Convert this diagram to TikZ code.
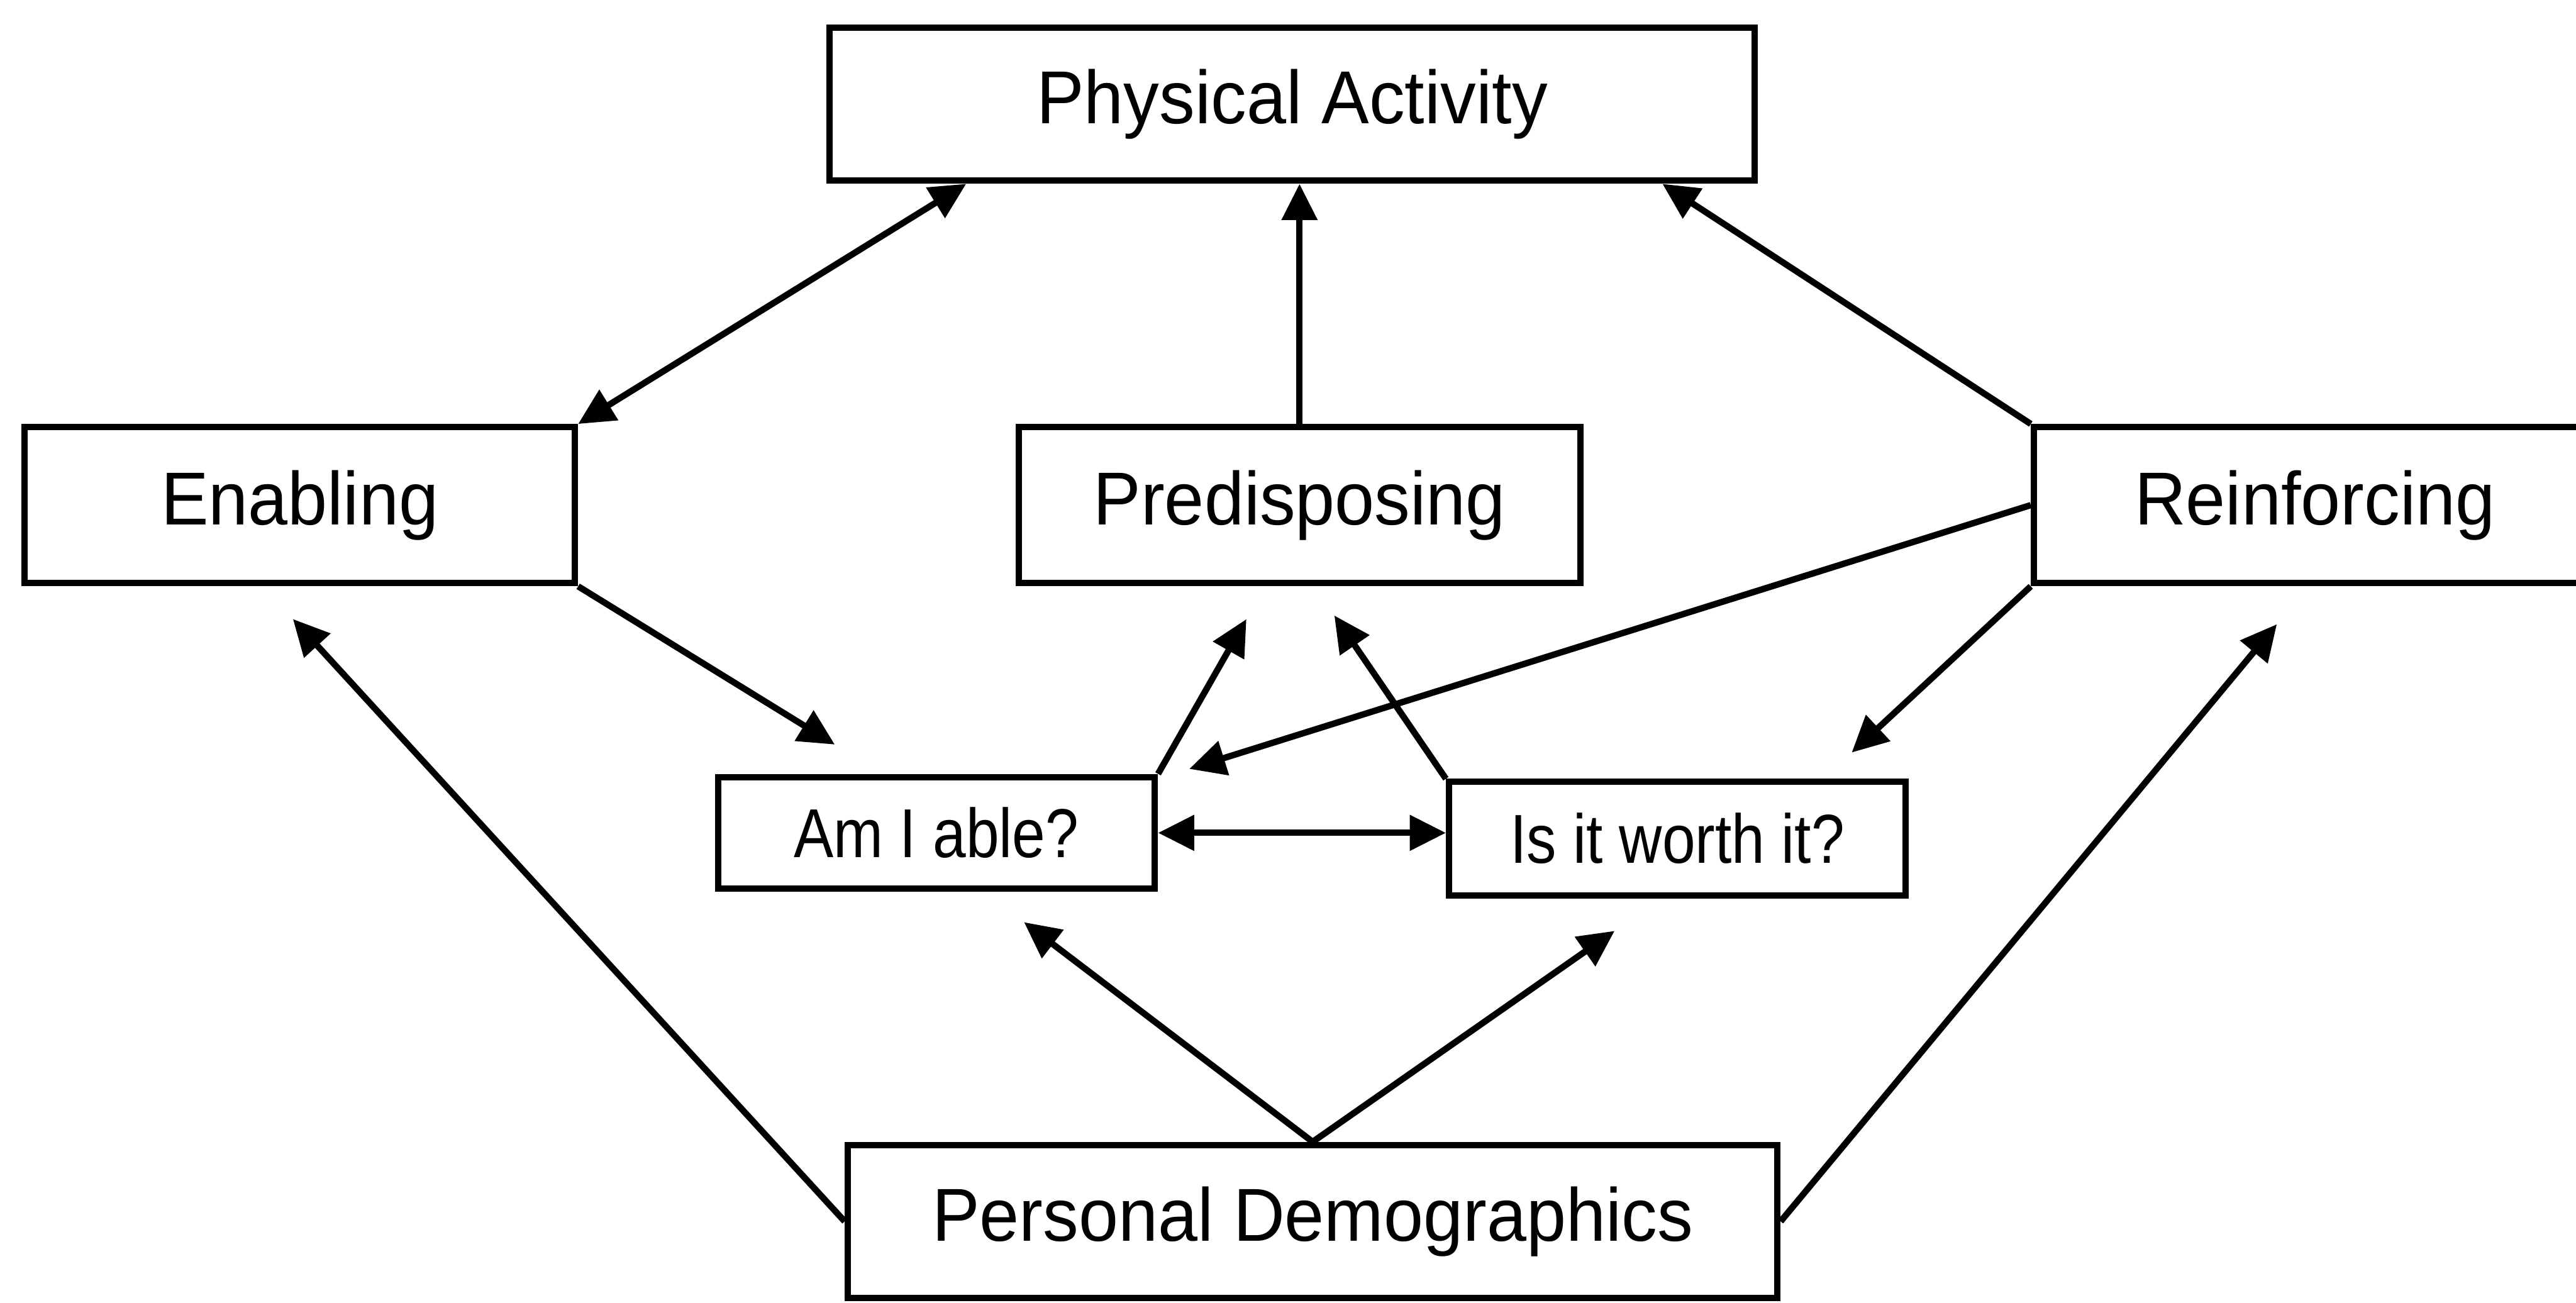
\documentclass[tikz,border=0pt]{standalone}
\usepackage{fontspec}
\setmainfont{Liberation Sans}
\newfontfamily\bigfont[FakeStretch=0.95]{Liberation Sans}
\newfontfamily\smallfont[FakeStretch=0.86]{Liberation Sans}
\usetikzlibrary{arrows.meta}

\tikzset{
  box/.style={draw,line width=2.2pt,inner sep=0pt,font=\bigfont\fontsize{26pt}{30pt}\selectfont},
  qbox/.style={box,font=\smallfont\fontsize{24pt}{28pt}\selectfont},
  link/.style={line width=2.2pt},
  >={Triangle[length=0.44cm,width=0.42cm]}
}

\begin{document}
\begin{tikzpicture}[x=0.02cm,y=-0.02cm]
    \useasboundingbox (0,0) rectangle (1568,793);

    % Nodes
    \node (pa) at (786.5,63.5) [box,minimum width=11.26cm,minimum height=1.86cm] {Physical Activity};
    \node (en) at (182.5,307.5) [box,minimum width=6.7cm,minimum height=1.9cm] {Enabling};
    \node (pre) at (791,307.5) [box,minimum width=6.84cm,minimum height=1.9cm] {Predisposing};
    \node (re) at (1409,307.5) [box,minimum width=6.84cm,minimum height=1.9cm] {Reinforcing};
    \node (able) at (570,507) [qbox,minimum width=5.32cm,minimum height=1.36cm] {Am I able?};
    \node (worth) at (1021,510.5) [qbox,minimum width=5.56cm,minimum height=1.38cm] {Is it worth it?};
    \node (pd) at (799,743.5) [box,minimum width=11.32cm,minimum height=1.86cm] {Personal Demographics};

    % Edges up to Physical Activity
    \path[<->,link] (en.north east) edge ([xshift=1.7cm]pa.south west);
    \path[->,link] (pre.north) edge (pre.north |- pa.south);
    \path[->,link] (re.north west) edge ([xshift=-1.16cm]pa.south east);

    % Edges between the middle boxes
    \path[->,link,shorten >=0.68cm] (en.south east) edge ([xshift=2.04cm]able.north west);
    \path[->,link,shorten >=0.46cm] (able.north east) edge ([xshift=3.04cm]pre.south west);
    \path[->,link,shorten >=0.43cm] (worth.north west) edge ([xshift=3.64cm]pre.south west);
    \path[->,link] (re.west) edge ([xshift=0.38cm,yshift=0.06cm]able.north east);
    \path[->,link,shorten >=0.47cm] (re.south west) edge ([xshift=-1.04cm]worth.north east);
    \path[<->,link] (able.east) edge (able.east -| worth.west);

    % Edges from Personal Demographics
    \path[->,link,shorten >=0.61cm] (pd.north) edge ([xshift=3.28cm]able.south west);
    \path[->,link,shorten >=0.69cm] (pd.north) edge ([xshift=2.62cm]worth.south west);
    \path[->,link,shorten >=0.54cm] (pd.west) edge ([xshift=2.94cm]en.south west);
    \path[->,link,shorten >=0.6cm] (pd.east) edge ([xshift=3.38cm]re.south west);
\end{tikzpicture}
\end{document}
